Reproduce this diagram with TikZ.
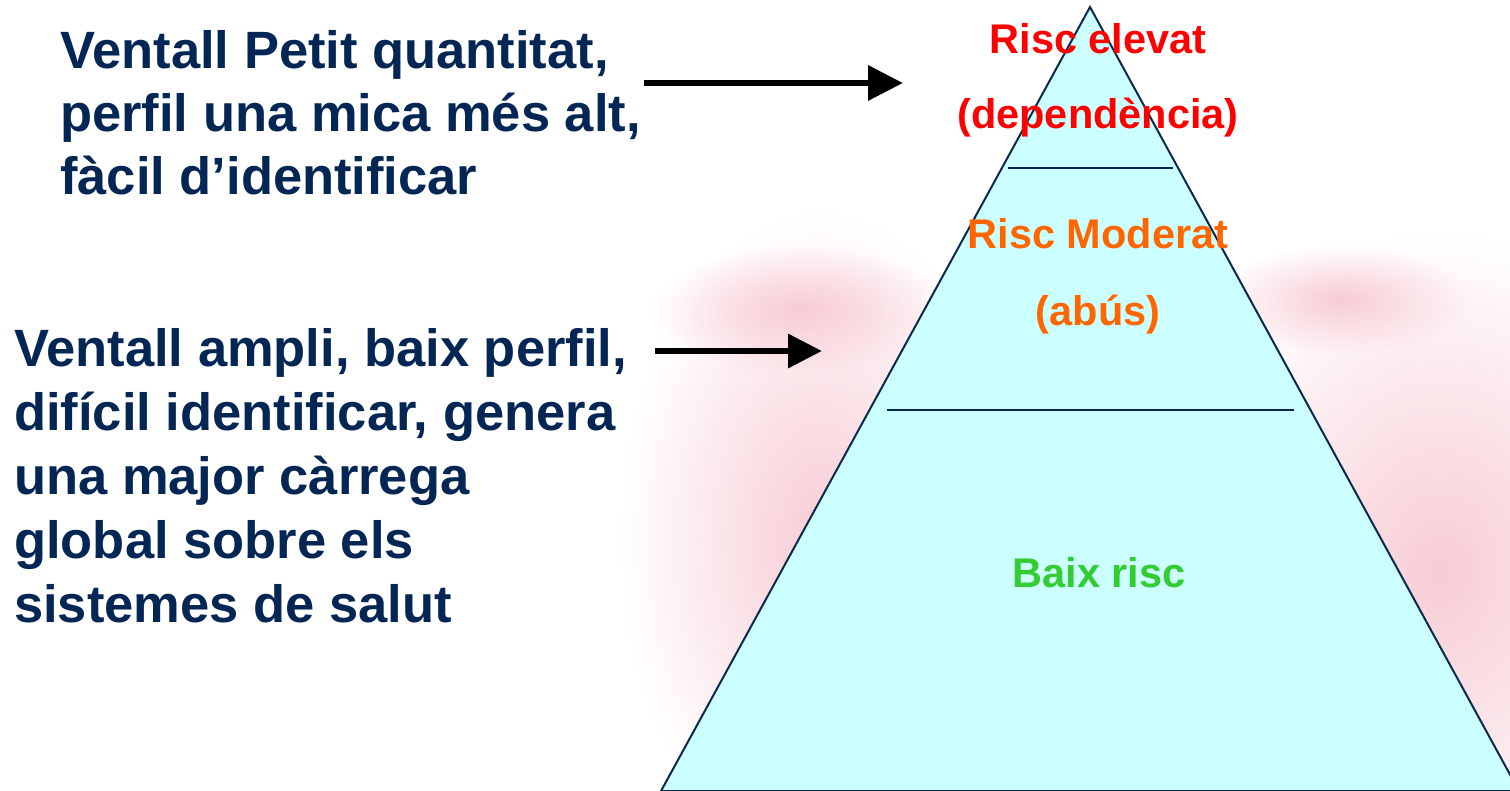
\documentclass[tikz,border=0pt]{standalone}
\usepackage{fontspec}
\setmainfont{Liberation Sans}
\usetikzlibrary{arrows.meta,fadings}
\tikzfading[name=softblob, inner color=transparent!0, outer color=transparent!100]
\definecolor{navy}{RGB}{4,38,84}
\definecolor{pyrfill}{RGB}{204,255,255}
\definecolor{pyredge}{RGB}{10,40,80}
\definecolor{riskred}{RGB}{255,0,0}
\definecolor{riskorange}{RGB}{255,102,0}
\definecolor{riskgreen}{RGB}{51,204,51}
\definecolor{wmpink}{RGB}{247,204,212}
\tikzset{
  lefttext/.style={anchor=base west, inner sep=0pt, text=navy,
    font=\fontsize{52.5}{63.5}\selectfont\bfseries},
  pyrtext/.style={anchor=base, inner sep=0pt,
    font=\fontsize{41.5}{50}\selectfont\bfseries},
  bigarrow/.style={line width=6.5pt, draw=black},
  divider/.style={draw=pyredge, line width=2pt},
  wmblob/.style={fill=wmpink, path fading=softblob},
}
\begin{document}
\begin{tikzpicture}[x=1pt,y=-1pt]
\useasboundingbox (0,0) rectangle (1510,791);
\clip (0,0) rectangle (1510,791);
% faint watermark tint
\fill[wmblob] (820,540) ellipse [x radius=200, y radius=330];
\fill[wmblob] (800,310) ellipse [x radius=150, y radius=65];
\fill[wmblob] (1440,570) ellipse [x radius=270, y radius=340];
\fill[wmblob] (1340,300) ellipse [x radius=130, y radius=55];
% pyramid
\coordinate (apex) at (1090,7);
\coordinate (bl) at (661,791);
\coordinate (br) at (1519,791);
\filldraw[fill=pyrfill, draw=pyredge, line width=2pt] (apex) -- (bl) -- (br) -- cycle;
\coordinate (d1a) at (1008,168);
\coordinate (d1b) at (1173,168);
\coordinate (d2a) at (887,410);
\coordinate (d2b) at (1294,410);
\draw[divider] (d1a) -- (d1b);
\draw[divider] (d2a) -- (d2b);
% pyramid labels
\node[pyrtext, text=riskred] (r1) at (1098,54) {Risc elevat};
\node[pyrtext, text=riskred] (r2) at (1098,129) {(dependència)};
\node[pyrtext, text=riskorange] (m1) at (1098,249) {Risc Moderat};
\node[pyrtext, text=riskorange] (m2) at (1098,326) {(abús)};
\node[pyrtext, text=riskgreen] (b1) at (1099,587) {Baix risc};
% left text block 1
\node[lefttext] (a1) at (60,69) {Ventall Petit quantitat,};
\node[lefttext] (a2) at (60,132) {perfil una mica més alt,};
\node[lefttext] (a3) at (60,195) {fàcil d’identificar};
% left text block 2
\node[lefttext] (c1) at (14,367) {Ventall ampli, baix perfil,};
\node[lefttext] (c2) at (14,430) {difícil identificar, genera};
\node[lefttext] (c3) at (14,494) {una major càrrega};
\node[lefttext] (c4) at (14,558) {global sobre els};
\node[lefttext] (c5) at (14,622) {sistemes de salut};
% arrows
\coordinate (s1) at (644,83);
\coordinate (e1) at (903,83);
\coordinate (s2) at (655,351);
\coordinate (e2) at (822,351);
\draw[bigarrow, -{Triangle[length=35pt,width=34pt]}] (s1) -- (e1);
\draw[bigarrow, -{Triangle[length=34pt,width=33pt]}] (s2) -- (e2);
\end{tikzpicture}
\end{document}
